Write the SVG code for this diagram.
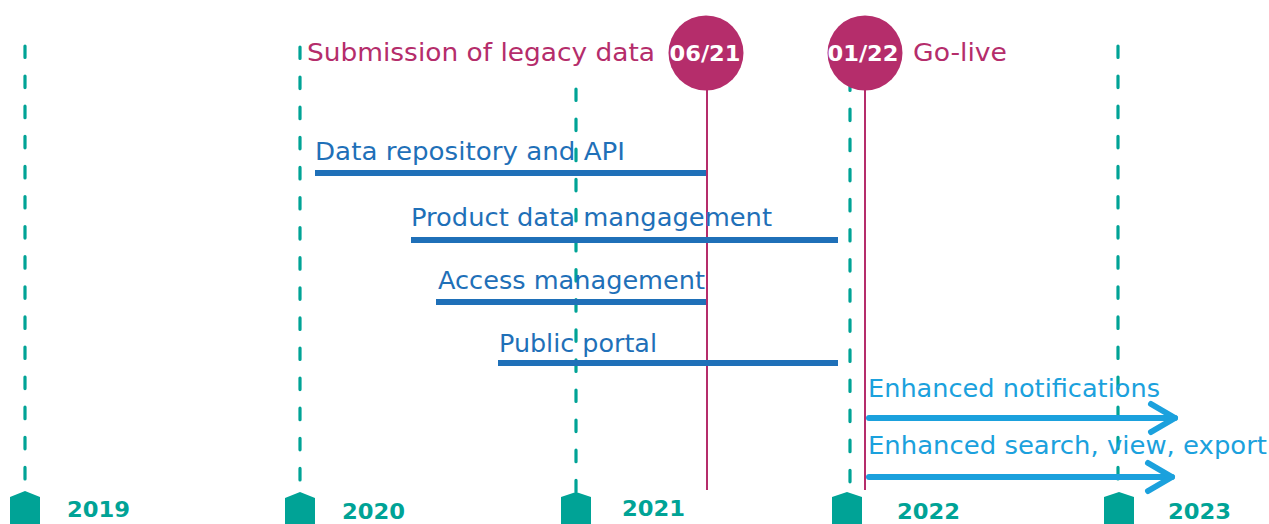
<svg xmlns="http://www.w3.org/2000/svg" width="1269" height="524" viewBox="0 0 1269 524">
<style>
.grid{stroke:#00A396;stroke-width:3.2;stroke-linecap:round;stroke-dasharray:11.5 18.6;fill:none}
.mk{fill:#00A396}
.yr{font-family:"DejaVu Sans","Liberation Sans",sans-serif;font-weight:bold;font-size:22px;fill:#00A396}
.ms{stroke:#B52D6B;stroke-width:2;fill:none}
.mc{fill:#B52D6B}
.mt{font-family:"DejaVu Sans","Liberation Sans",sans-serif;font-weight:bold;font-size:21px;fill:#ffffff;text-anchor:middle}
.ml{font-family:"DejaVu Sans","Liberation Sans",sans-serif;font-size:25px;fill:#B52D6B}
.bar{stroke:#1F70B8;stroke-width:6;fill:none}
.bl{font-family:"DejaVu Sans","Liberation Sans",sans-serif;font-size:25px;fill:#1F70B8}
.arr{stroke:#1BA1DD;stroke-width:6;fill:none;stroke-linecap:round;stroke-linejoin:round}
.al{font-family:"DejaVu Sans","Liberation Sans",sans-serif;font-size:25px;fill:#1BA1DD}
</style>
<defs>
<marker id="chev" markerUnits="userSpaceOnUse" markerWidth="40" markerHeight="40" viewBox="-30 -20 40 40" refX="0" refY="0" orient="auto" overflow="visible">
<path d="M-24,-14 L0,0 L-24,14" fill="none" stroke="#1BA1DD" stroke-width="6" stroke-linecap="round" stroke-linejoin="round"/>
</marker>
</defs>
<g id="timeline">
<line class="grid" x1="25" y1="46" x2="25" y2="484"/>
<line class="grid" x1="300" y1="47" x2="300" y2="485"/>
<line class="grid" x1="576" y1="89" x2="576" y2="494"/>
<line class="grid" x1="850" y1="79" x2="850" y2="484"/>
<line class="grid" x1="1118" y1="46" x2="1118" y2="484"/>
</g>
<g id="year-2019"><polygon class="mk" points="10,497 25,491 40,497 40,524 10,524"/><text class="yr" x="67" y="517" textLength="63" lengthAdjust="spacingAndGlyphs">2019</text></g>
<g id="year-2020"><polygon class="mk" points="285,498 300,492 315,498 315,524 285,524"/><text class="yr" x="342" y="519" textLength="63" lengthAdjust="spacingAndGlyphs">2020</text></g>
<g id="year-2021"><polygon class="mk" points="561,497 576,492 591,497 591,524 561,524"/><text class="yr" x="622" y="516" textLength="63" lengthAdjust="spacingAndGlyphs">2021</text></g>
<g id="year-2022"><polygon class="mk" points="832,497 847,492 862,497 862,524 832,524"/><text class="yr" x="897" y="519" textLength="63" lengthAdjust="spacingAndGlyphs">2022</text></g>
<g id="year-2023"><polygon class="mk" points="1104,497 1119,492 1134,497 1134,524 1104,524"/><text class="yr" x="1168" y="519" textLength="63" lengthAdjust="spacingAndGlyphs">2023</text></g>
<g id="milestone-0621">
<line class="ms" x1="707" y1="80" x2="707" y2="490"/>
<circle class="mc" cx="706" cy="53" r="37.5"/>
<text class="mt" x="705" y="61" textLength="71" lengthAdjust="spacingAndGlyphs">06/21</text>
<text class="ml" x="307" y="61" textLength="348" lengthAdjust="spacingAndGlyphs">Submission of legacy data</text>
</g>
<g id="milestone-0122">
<line class="ms" x1="865" y1="80" x2="865" y2="490"/>
<circle class="mc" cx="865" cy="53" r="37.5"/>
<text class="mt" x="863" y="61" textLength="71" lengthAdjust="spacingAndGlyphs">01/22</text>
<text class="ml" x="913" y="61" textLength="94" lengthAdjust="spacingAndGlyphs">Go-live</text>
</g>
<g id="connectors">
<line class="bar" x1="315" y1="173" x2="706" y2="173"/>
<line class="bar" x1="411" y1="240" x2="838" y2="240"/>
<line class="bar" x1="436" y1="302" x2="706" y2="302"/>
<line class="bar" x1="498" y1="363" x2="838" y2="363"/>
<line class="arr" x1="869" y1="418" x2="1175" y2="418" marker-end="url(#chev)"/>
<line class="arr" x1="869" y1="477" x2="1172" y2="477" marker-end="url(#chev)"/>
</g>
<g id="task-data-repository"><text class="bl" x="315" y="160" textLength="310" lengthAdjust="spacingAndGlyphs">Data repository and API</text></g>
<g id="task-product-data"><text class="bl" x="411" y="226" textLength="361" lengthAdjust="spacingAndGlyphs">Product data mangagement</text></g>
<g id="task-access"><text class="bl" x="438" y="289" textLength="267" lengthAdjust="spacingAndGlyphs">Access management</text></g>
<g id="task-public-portal"><text class="bl" x="499" y="352" textLength="158" lengthAdjust="spacingAndGlyphs">Public portal</text></g>
<g id="task-notifications"><text class="al" x="868" y="397" textLength="292" lengthAdjust="spacingAndGlyphs">Enhanced notifications</text></g>
<g id="task-search"><text class="al" x="868" y="454" textLength="399" lengthAdjust="spacingAndGlyphs">Enhanced search, view, export</text></g>
</svg>
